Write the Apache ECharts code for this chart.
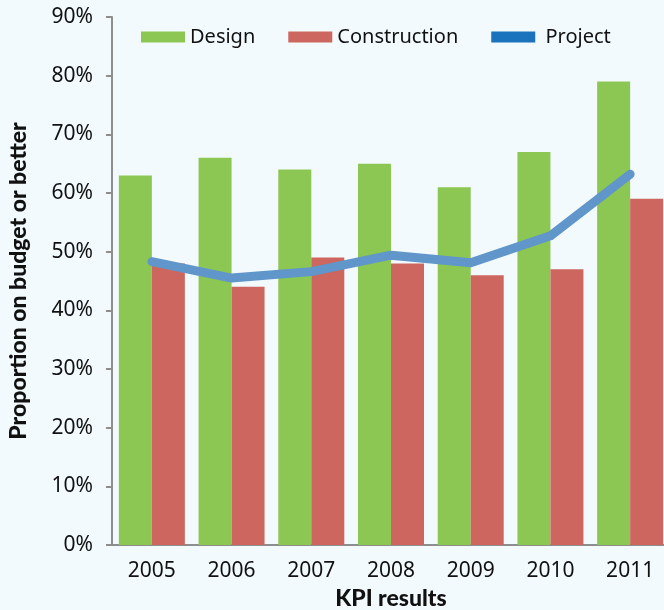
<!DOCTYPE html>
<html>
<head>
<meta charset="utf-8">
<script src="https://cdn.jsdelivr.net/npm/echarts@6/dist/echarts.min.js"></script>
<style>
  html, body { margin: 0; padding: 0; background: #f2fafd; }
  #main { width: 664px; height: 610px; }
</style>
</head>
<body>
<div id="main"></div>
<script>
var years = ['2005', '2006', '2007', '2008', '2009', '2010', '2011']
var design = [63, 66, 64, 65, 61, 67, 79]
var construction = [48, 44, 49, 48, 46, 47, 59]
var project = [48.3, 45.5, 46.6, 49.4, 48.1, 52.7, 63.2]

var font = '"Noto Sans", sans-serif'
var boldFont = 'Lato, sans-serif'
var axisGray = '#8e8e8e'

var chart = echarts.init(document.getElementById('main'))
chart.setOption({
  backgroundColor: '#f2fafd',
  textStyle: { fontFamily: font },
  grid: { left: 112, right: -6, top: 17, bottom: 65, outerBoundsMode: 'none' },
  legend: {
    top: 22,
    left: 136,
    itemWidth: 44,
    itemHeight: 11,
    itemGap: 33,
    icon: 'rect',
    formatter: function (name) {
      return name === 'Project' ? ' ' + name : name
    },
    textStyle: { fontSize: 20, color: '#111', fontFamily: font },
    data: ['Design', 'Construction', { name: 'Project', itemStyle: { color: '#1b73bd' } }]
  },
  xAxis: {
    type: 'category',
    data: years,
    name: 'KPI results',
    nameLocation: 'middle',
    nameGap: 42,
    nameTextStyle: { fontSize: 23, fontWeight: 900, color: '#111', fontFamily: boldFont },
    axisLine: { lineStyle: { color: axisGray, width: 2 } },
    axisTick: { length: 6, lineStyle: { color: axisGray, width: 2 } },
    axisLabel: { fontSize: 21, color: '#111', margin: 16 }
  },
  yAxis: {
    type: 'value',
    min: 0,
    max: 90,
    interval: 10,
    name: 'Proportion on budget or better',
    nameLocation: 'middle',
    nameGap: 82,
    nameTextStyle: { fontSize: 23, fontWeight: 900, color: '#111', fontFamily: boldFont },
    axisLine: { show: true, lineStyle: { color: axisGray, width: 2 } },
    axisTick: { show: true, length: 6, lineStyle: { color: axisGray, width: 2 } },
    splitLine: { show: false },
    axisLabel: { fontSize: 21, color: '#111', margin: 19, formatter: '{value}%' }
  },
  series: [
    {
      name: 'Design',
      type: 'bar',
      data: design,
      barWidth: 33,
      barGap: '0%',
      itemStyle: { color: '#8cc653' }
    },
    {
      name: 'Construction',
      type: 'bar',
      data: construction,
      barWidth: 33,
      itemStyle: { color: '#cd665f' }
    },
    {
      name: 'Project',
      type: 'line',
      data: project,
      symbol: 'none',
      itemStyle: { color: '#1b73bd' },
      lineStyle: { color: '#6096c9', width: 9, cap: 'round', join: 'round' }
    }
  ]
})
</script>
</body>
</html>
